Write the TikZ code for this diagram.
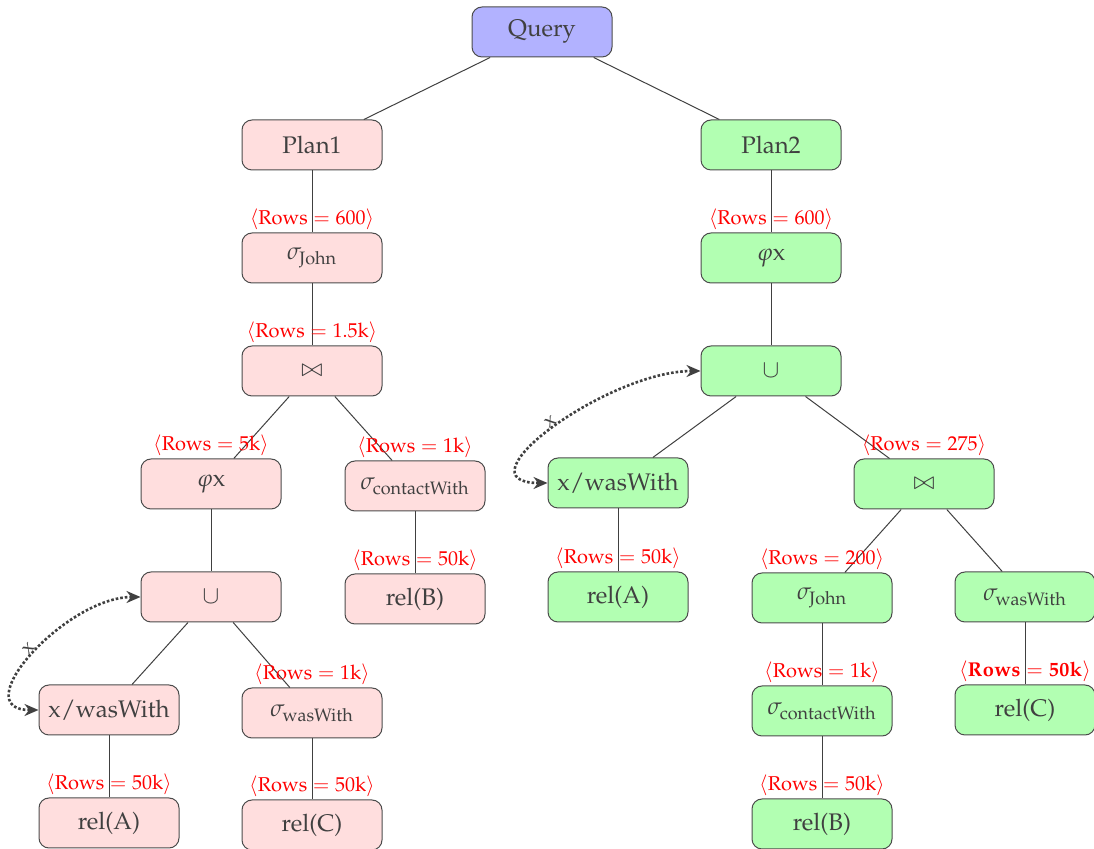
\documentclass[tikz,border=0pt]{standalone}
\usepackage[T1]{fontenc}
\IfFileExists{mathpazo.sty}{\usepackage{mathpazo}}{}
\usetikzlibrary{arrows.meta}
\newif\ifhaveeuler
\IfFileExists{eurm10.tfm}{\haveeulertrue}{\haveeulerfalse}
\newif\ifhaveeulerbold
\IfFileExists{eurb10.tfm}{\haveeulerboldtrue}{\haveeulerboldfalse}
\ifhaveeuler
  \DeclareFontFamily{U}{myeur}{}
  \DeclareFontShape{U}{myeur}{m}{n}{<-6>eurm5<6-8>eurm7<8->eurm10}{}
  \DeclareSymbolFont{myeuler}{U}{myeur}{m}{n}
  \DeclareMathAlphabet{\eu}{U}{myeur}{m}{n}
  \DeclareMathSymbol{\esigma}{\mathord}{myeuler}{"1B}
  \DeclareMathSymbol{\evarphi}{\mathord}{myeuler}{"27}
  \ifhaveeulerbold
    \DeclareFontShape{U}{myeur}{b}{n}{<-6>eurb5<6-8>eurb7<8->eurb10}{}
    \DeclareMathAlphabet{\eub}{U}{myeur}{b}{n}
  \else
    \newcommand{\eub}[1]{\mathbf{#1}}
  \fi
\else
  \newcommand{\eu}[1]{\mathrm{#1}}
  \newcommand{\eub}[1]{\mathbf{#1}}
  \newcommand{\esigma}{\sigma}
  \newcommand{\evarphi}{\varphi}
\fi
\tikzset{
  box/.style={draw=black!70, line width=0.5pt, rounded corners=5pt, minimum height=25pt, text width=63pt, inner sep=3.5pt, align=center, text=black!75, font=\fontsize{12}{14}\selectfont},
  pone/.style={box, fill=red!13},
  ptwo/.style={box, fill=green!30},
  pq/.style={box, fill=blue!30},
  link/.style={draw=black!75, line width=0.5pt},
  rows/.style={text=red, font=\fontsize{10}{12}\selectfont, anchor=south, inner sep=1.2pt},
  loopback/.style={draw=black!75, line width=1.3pt, densely dotted, {Stealth[length=7pt,width=6pt]}-{Stealth[length=7pt,width=6pt]}},
  looplbl/.style={midway, sloped, above, inner sep=0.5pt, text=black!75, font=\fontsize{10}{12}\selectfont}
}
\begin{document}
\begin{tikzpicture}[x=0.5pt,y=-0.5pt]
\useasboundingbox (0,0) rectangle (1094,849);
% nodes
\node[pq] (q) at (542,32) {Query};
\node[pone] (pl1) at (312,145) {Plan1};
\node[ptwo] (pl2) at (771,145) {Plan2};
% plan 1
\node[pone] (a1) at (312,258) {$\esigma_{\eu{John}}$};
\node[pone] (a2) at (312,371) {$\bowtie$};
\node[pone] (a3) at (211,484) {$\evarphi\eu{x}$};
\node[pone] (a4) at (415,486) {$\esigma_{\eu{contactWith}}$};
\node[pone] (a5) at (211,597) {$\cup$};
\node[pone] (a6) at (415,599) {rel(B)};
\node[pone] (a7) at (109,710) {$\eu{x/wasWith}$};
\node[pone] (a8) at (312,713) {$\esigma_{\eu{wasWith}}$};
\node[pone] (a9) at (109,823) {rel(A)};
\node[pone] (a10) at (312,825) {rel(C)};
% plan 2
\node[ptwo] (b1) at (771,258) {$\evarphi\eu{x}$};
\node[ptwo] (b2) at (771,371) {$\cup$};
\node[ptwo] (b3) at (618,483) {$\eu{x/wasWith}$};
\node[ptwo] (b4) at (924,484) {$\bowtie$};
\node[ptwo] (b5) at (618,597) {rel(A)};
\node[ptwo] (b6) at (822,598) {$\esigma_{\eu{John}}$};
\node[ptwo] (b7) at (1025,597) {$\esigma_{\eu{wasWith}}$};
\node[ptwo] (b8) at (822,711) {$\esigma_{\eu{contactWith}}$};
\node[ptwo] (b9) at (1025,710) {rel(C)};
\node[ptwo] (b10) at (822,824) {rel(B)};
% edges
\draw[link] (q) -- (pl1);
\draw[link] (q) -- (pl2);
\draw[link] (pl1) -- (a1);
\draw[link] (a1) -- (a2);
\draw[link] (a2) -- (a3);
\draw[link] (a2) -- (a4);
\draw[link] (a3) -- (a5);
\draw[link] (a4) -- (a6);
\draw[link] (a5) -- (a7);
\draw[link] (a5) -- (a8);
\draw[link] (a7) -- (a9);
\draw[link] (a8) -- (a10);
\draw[link] (pl2) -- (b1);
\draw[link] (b1) -- (b2);
\draw[link] (b2) -- (b3);
\draw[link] (b2) -- (b4);
\draw[link] (b3) -- (b5);
\draw[link] (b4) -- (b6);
\draw[link] (b4) -- (b7);
\draw[link] (b6) -- (b8);
\draw[link] (b7) -- (b9);
\draw[link] (b8) -- (b10);
% row labels
\node[rows] (r1) at (a1.north) {$\langle \eu{Rows} = \eu{600}\rangle$};
\node[rows] (r2) at (a2.north) {$\langle \eu{Rows} = \eu{1.5k}\rangle$};
\node[rows] (r3) at (a3.north) {$\langle \eu{Rows} = \eu{5k}\rangle$};
\node[rows] (r4) at (a4.north) {$\langle \eu{Rows} = \eu{1k}\rangle$};
\node[rows] (r5) at (a6.north) {$\langle \eu{Rows} = \eu{50k}\rangle$};
\node[rows] (r6) at (a8.north) {$\langle \eu{Rows} = \eu{1k}\rangle$};
\node[rows] (r7) at (a9.north) {$\langle \eu{Rows} = \eu{50k}\rangle$};
\node[rows] (r8) at (a10.north) {$\langle \eu{Rows} = \eu{50k}\rangle$};
\node[rows] (s1) at (b1.north) {$\langle \eu{Rows} = \eu{600}\rangle$};
\node[rows] (s2) at (b4.north) {$\langle \eu{Rows} = \eu{275}\rangle$};
\node[rows] (s3) at (b5.north) {$\langle \eu{Rows} = \eu{50k}\rangle$};
\node[rows] (s4) at (b6.north) {$\langle \eu{Rows} = \eu{200}\rangle$};
\node[rows] (s5) at (b8.north) {$\langle \eu{Rows} = \eu{1k}\rangle$};
\node[rows] (s6) at (b9.north) {$\langle \eub{Rows} = \eub{50k}\rangle$};
\node[rows] (s7) at (b10.north) {$\langle \eu{Rows} = \eu{50k}\rangle$};
% loop-back arrows
\draw[loopback] (a5.west) to[out=180,in=180,looseness=1.25] node[looplbl] {$\eu{x}$} (a7.west);
\draw[loopback] (b2.west) to[out=180,in=180,looseness=1.25] node[looplbl] {$\eu{x}$} (b3.west);
\end{tikzpicture}
\end{document}
